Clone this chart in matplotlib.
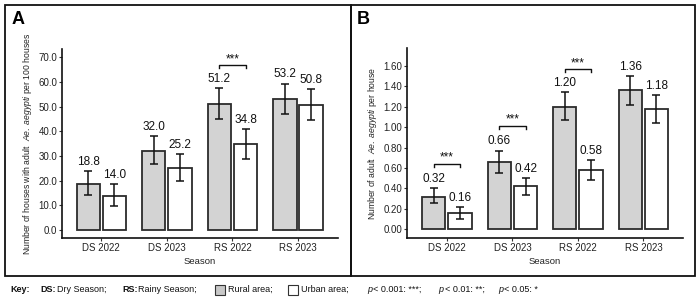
import matplotlib
matplotlib.use("Agg")
import matplotlib.pyplot as plt
from matplotlib.patches import Rectangle
import numpy as np

plt.rcParams['font.family'] = ['Liberation Sans', 'DejaVu Sans']
plt.rcParams['mathtext.fontset'] = 'custom'
plt.rcParams['mathtext.rm'] = 'Liberation Sans'
plt.rcParams['mathtext.it'] = 'Liberation Sans:italic'

# ---------------- data ----------------
seasons = ['DS 2022', 'DS 2023', 'RS 2022', 'RS 2023']

houses_rural = [18.8, 32.0, 51.2, 53.2]
houses_rural_lo = [14.2, 26.6, 45.1, 47.2]
houses_rural_hi = [24.0, 38.0, 57.4, 59.4]
houses_urban = [14.0, 25.2, 34.8, 50.8]
houses_urban_lo = [9.9, 20.0, 29.0, 44.6]
houses_urban_hi = [18.6, 30.8, 40.8, 57.0]
houses_sig = [(2, 66.9)]

adult_rural = [0.32, 0.66, 1.20, 1.36]
adult_rural_lo = [0.255, 0.55, 1.065, 1.215]
adult_rural_hi = [0.40, 0.77, 1.34, 1.50]
adult_urban = [0.16, 0.42, 0.58, 1.18]
adult_urban_lo = [0.10, 0.34, 0.483, 1.045]
adult_urban_hi = [0.215, 0.50, 0.675, 1.315]
adult_sig = [(0, 0.64), (1, 1.015), (2, 1.567)]

W, H = 700, 299
fig = plt.figure(figsize=(W / 100, H / 100), dpi=100)


def px_axes(l, t, r, b):
    return fig.add_axes([l / W, 1 - b / H, (r - l) / W, (b - t) / H])


def panel(ax, rural, rlo, rhi, urban, ulo, uhi, sig, ylim, xlim, ticks, fmt,
          ylabel, tick_h):
    x = np.arange(len(seasons))
    off, bw = 0.2, 0.355
    ec = '#2b2b2b'
    ax.bar(x - off, rural, bw, color='#d3d3d3', edgecolor=ec, linewidth=1.3, zorder=2)
    ax.bar(x + off, urban, bw, color='white', edgecolor=ec, linewidth=1.3, zorder=2)
    r = np.array(rural); u = np.array(urban)
    ax.errorbar(x - off, r, yerr=[r - np.array(rlo), np.array(rhi) - r], fmt='none',
                ecolor='#111111', elinewidth=1.1, capsize=3, capthick=1.1, zorder=3)
    ax.errorbar(x + off, u, yerr=[u - np.array(ulo), np.array(uhi) - u], fmt='none',
                ecolor='#111111', elinewidth=1.1, capsize=3, capthick=1.1, zorder=3)
    for xi, v, top in zip(x - off, rural, rhi):
        ax.annotate(fmt % v, (xi, top), xytext=(0, 4.5), textcoords='offset points',
                    ha='center', va='baseline', fontsize=8.5, color='#111111')
    for xi, v, top in zip(x + off, urban, uhi):
        ax.annotate(fmt % v, (xi, top), xytext=(0, 4.5), textcoords='offset points',
                    ha='center', va='baseline', fontsize=8.5, color='#111111')
    for gi, h in sig:
        ax.plot([gi - off, gi - off, gi + off, gi + off], [h - tick_h, h, h, h - tick_h],
                color='#111111', lw=1.0, zorder=3)
        ax.text(gi, h, '***', ha='center', va='bottom', fontsize=8.5, color='#111111')
    ax.set_ylim(*ylim)
    ax.set_xlim(*xlim)
    ax.set_yticks(ticks)
    ax.set_yticklabels([fmt % t for t in ticks])
    ax.set_xticks(x)
    ax.set_xticklabels(seasons)
    ax.spines['top'].set_visible(False)
    ax.spines['right'].set_visible(False)
    for s in ('left', 'bottom'):
        ax.spines[s].set_linewidth(1.2)
        ax.spines[s].set_color('#111111')
    ax.tick_params(axis='both', length=2, width=0.8, colors='#333333',
                   labelsize=7.0, pad=1.5)
    ax.tick_params(axis='both', labelcolor='#222222')
    ax.set_xlabel('Season', fontsize=6.8, color='#222222', labelpad=3)
    ax.set_ylabel(ylabel, fontsize=6.2, color='#222222', labelpad=3)


axA = px_axes(62, 49, 338, 238)
panel(axA, houses_rural, houses_rural_lo, houses_rural_hi,
      houses_urban, houses_urban_lo, houses_urban_hi, houses_sig,
      (-3.2, 73.4), (-0.60, 3.61), np.arange(0, 71, 10), '%.1f',
      r'Number of houses with adult  $\mathit{Ae.\ aegypti}$ per 100 houses', 1.4)

axB = px_axes(407, 48, 683, 238)
panel(axB, adult_rural, adult_rural_lo, adult_rural_hi,
      adult_urban, adult_urban_lo, adult_urban_hi, adult_sig,
      (-0.085, 1.774), (-0.61, 3.605), np.round(np.arange(0, 1.61, 0.2), 2), '%.2f',
      r'Number of adult  $\mathit{Ae.\ aegypti}$ per house', 0.03)

# panel borders
for (l, r) in [(5, 351), (351, 695)]:
    fig.patches.append(Rectangle((l / W, 1 - 276 / H), (r - l) / W, (276 - 5) / H,
                                 transform=fig.transFigure, fill=False,
                                 edgecolor='#111111', linewidth=1.3))

fig.text(18 / W, 1 - 20 / H, 'A', fontsize=13, fontweight='bold', ha='center', va='center')
fig.text(363 / W, 1 - 20 / H, 'B', fontsize=13, fontweight='bold', ha='center', va='center')

# key line
ky = 1 - 289.5 / H
kf = 6.5
def kt(xp, s, **kw):
    fig.text(xp / W, ky, s, fontsize=kf, va='center', ha='left', color='#111111', **kw)

kt(10, 'Key:', fontweight='bold')
kt(40, 'DS:', fontweight='bold')
kt(57, 'Dry Season;')
kt(122, 'RS:', fontweight='bold')
kt(138, 'Rainy Season;')
fig.patches.append(Rectangle((215 / W, 1 - 295 / H), 10 / W, 10 / H, transform=fig.transFigure,
                             facecolor='#c8c8c8', edgecolor='#333333', linewidth=0.8))
kt(228, 'Rural area;')
fig.patches.append(Rectangle((288 / W, 1 - 295 / H), 10 / W, 10 / H, transform=fig.transFigure,
                             facecolor='white', edgecolor='#333333', linewidth=0.8))
kt(301, 'Urban area;')
kt(367, 'p', style='italic')
kt(373, '< 0.001: ***;')
kt(438, 'p', style='italic')
kt(445, '< 0.01: **;')
kt(498, 'p', style='italic')
kt(504, '< 0.05: *')

fig.savefig('out.png', dpi=100)
